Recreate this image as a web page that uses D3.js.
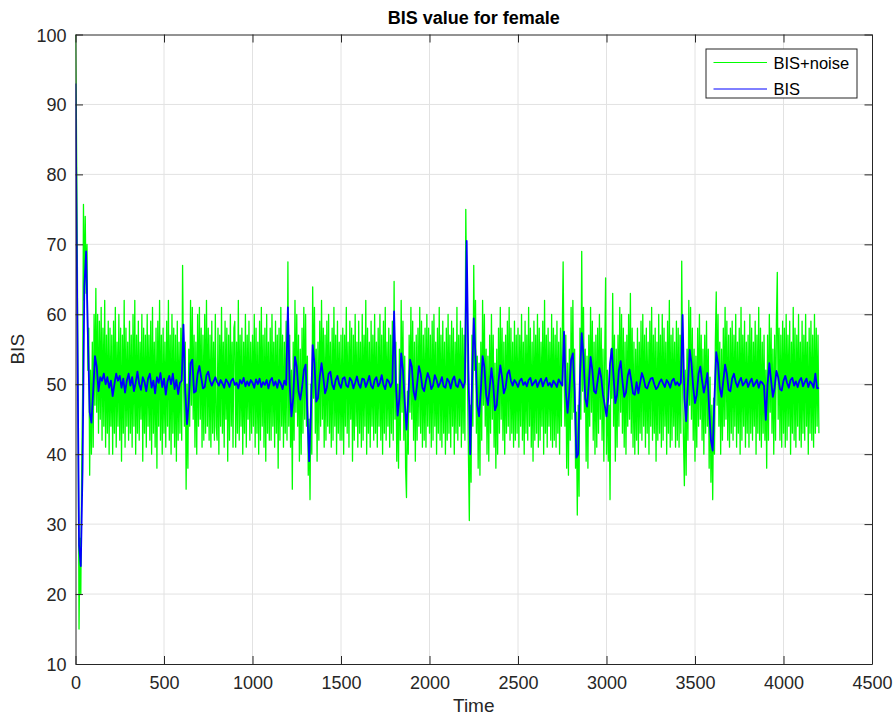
<!DOCTYPE html>
<html>
<head>
<meta charset="utf-8">
<script src="https://cdn.jsdelivr.net/npm/d3@7"></script>
<style>
    body { margin: 0; background: #fff; }
    svg { display: block; font-family: "Liberation Sans", Arial, Helvetica, sans-serif; }
</style>
</head>
<body>
<div id="chart"></div>
<script>
// BIS sampled every 10 time units, BIS+noise every 5, both from t = 0 to t = 4200
const bisStep = 10;
const noiseStep = 5;

const bis = [
    93, 60, 27, 24, 38, 64, 69, 57, 46, 44.5,
    49, 54, 52.5, 49, 51, 50.5, 51.5, 50, 51, 49.5,
    50.5, 48.3, 50, 51.5, 50.5, 51.2, 49.5, 50.8, 48.8, 50.5,
    51.5, 49.8, 51, 49, 50.2, 51.8, 50, 49.2, 51, 50.3,
    49, 50.8, 51.5, 49.5, 50.5, 48.7, 51, 50.2, 51.6, 49.6,
    50.8, 48.5, 50.4, 51.2, 50, 51.5, 49.3, 50.6, 48.6, 50.2,
    50.5, 58.5, 49, 44.3, 47.5, 53, 53.5, 48.8, 49, 51.5,
    52.6, 51, 49.4, 49.6, 51.3, 51.8, 50.5, 49.8, 50.4, 51,
    50.3, 49.8, 50.6, 50.1, 49.5, 50.7, 50.3, 49.6, 50.5, 50.8,
    49.9, 50.2, 49.4, 50.6, 50.1, 50.9, 49.7, 50.4, 49.8, 50.6,
    50.2, 49.5, 50.7, 50, 50.8, 49.6, 50.3, 49.9, 50.6, 49.4,
    50.5, 50.9, 49.8, 50.4, 49.5, 50.6, 50.1, 49.3, 50.5, 49.9,
    61, 50, 45.4, 48, 53.9, 52.5, 49, 47.8, 49.5, 52,
    52.8, 46, 39, 46, 55.6, 53, 47.5, 48, 51, 53,
    51, 48.7, 49.5, 51.5, 51.8, 50, 49.3, 50.6, 51.2, 50,
    49.5, 50.8, 51, 49.8, 49.6, 50.9, 50.5, 49.4, 50.2, 51.1,
    50, 49.5, 50.8, 50.7, 49.6, 50.3, 51.2, 49.8, 49.4, 50.6,
    51, 49.7, 50.2, 51.3, 49.9, 49.3, 50.7, 50.4, 49.6, 50.3,
    60.4, 50, 45.5, 48, 54.4, 52, 47.5, 43.5, 48, 53.5,
    52.5, 49, 47.8, 50, 52.6, 51.5, 49.5, 49, 50.5, 51.6,
    50.8, 49.3, 49.8, 51.3, 50.6, 49.6, 50.2, 51, 49.7, 49.5,
    50.8, 50.4, 49.4, 50.6, 51.1, 49.8, 49.6, 50.7, 50.2, 49.5,
    50.3, 70.5, 52, 40, 50, 59.4, 54, 47, 45.4, 49,
    54, 52.5, 48.5, 47, 49.5, 52.3, 50, 46.3, 47, 50.5,
    52.7, 51, 48.7, 49.5, 51.5, 52, 50.5, 49.8, 50.6, 50.2,
    49.6, 50.5, 50.8, 49.9, 50.3, 49.7, 50.6, 50.9, 49.8, 50.2,
    50.6, 49.6, 50.3, 50.8, 49.7, 50.4, 50.9, 49.8, 50.2, 49.6,
    50.5, 50.1, 49.6, 50.7, 50.2, 49.8, 57.5, 49, 45.9, 49,
    53.5, 54.4, 49, 39.5, 40, 51, 57.3, 54, 48, 46.8,
    50, 53.9, 52, 49, 48.7, 50.5, 52.3, 51, 48.5, 47,
    45.4, 48, 53, 55.1, 51, 47.3, 48.5, 52, 53.3, 50.5,
    48.2, 48.8, 51.2, 52.1, 50.5, 48.7, 48.5, 50.3, 48.7, 50.2,
    51.6, 50.8, 49.6, 49.4, 50.2, 50.8, 50.9, 50, 49.3, 49.6,
    50.3, 50.7, 50.1, 49.6, 50.6, 50.2, 49.5, 50.5, 50.8, 49.9,
    50.3, 49.8, 50.2, 59.9, 48, 44.7, 50, 54.9, 53, 49.5,
    47.3, 48.5, 51.5, 52.5, 50.5, 48.8, 50, 51.6, 46.5, 42,
    40.5, 48, 54.6, 53, 49.5, 48.2, 50.5, 52.8, 51.5, 49.2,
    49, 50.8, 51.5, 50.3, 49.6, 50.4, 50.9, 49.8, 50.2, 50.7,
    49.6, 50.3, 50.8, 49.7, 50.1, 50.6, 49.5, 50.4, 50.2, 49.8,
    44.9, 50, 53, 50.5, 48.2, 49.5, 51.9, 51, 49.3, 49.1,
    50.5, 51.2, 50.2, 49.5, 50.6, 50.9, 49.8, 50.4, 49.6, 50.5,
    50.9, 49.7, 50.3, 50.8, 49.6, 50.4, 50.1, 49.5, 51.5, 49.4,
    49.5
];

const bisNoise = [
    100, 88, 70, 45, 15, 28, 20, 38, 48, 75.7, 62, 74, 63, 70, 52, 58, 37, 52, 40, 56,
    41, 60, 47, 63.7, 46, 60, 43, 59, 45, 61, 42, 58, 44, 62, 41, 57, 43, 59, 40, 58,
    44, 57, 40, 59, 43, 61, 41, 56, 44, 60, 42, 58, 39, 57, 43, 62, 41, 58, 44, 56,
    42, 59, 43, 57, 41, 60, 44, 62, 40, 57, 43, 59, 42, 56, 45, 60, 39, 58, 43, 57,
    41, 60, 44, 57, 42, 59, 40, 61, 43, 56, 41, 58, 38, 59, 44, 62, 42, 57, 40, 58,
    43, 56, 41, 59, 44, 62, 42, 57, 40, 60, 43, 58, 41, 57, 39, 59, 42, 56, 43, 58,
    42, 67, 52, 44, 56, 35, 50, 38, 55, 44, 62, 47, 61, 45, 57, 41, 56, 40, 60, 44,
    61, 45, 58, 41, 57, 42, 60, 43, 62, 44, 58, 42, 57, 41, 59, 43, 56, 42, 60, 44,
    42, 58, 40, 57, 44, 61, 43, 56, 41, 59, 45, 58, 39, 57, 42, 60, 44, 56, 41, 58,
    59, 41, 56, 43, 62, 42, 57, 44, 58, 40, 56, 43, 60, 41, 57, 45, 59, 42, 56, 43,
    57, 44, 60, 41, 58, 43, 56, 40, 59, 42, 61, 44, 57, 41, 58, 39, 60, 43, 56, 42,
    58, 42, 60, 44, 56, 41, 59, 43, 57, 38, 58, 42, 61, 44, 57, 41, 56, 43, 59, 42,
    67.5, 44, 57, 41, 52, 35, 56, 42, 62, 46, 60, 44, 57, 39, 55, 40, 58, 43, 61, 45,
    60, 44, 54, 37, 45, 33.5, 50, 40, 63.9, 48, 61, 43, 55, 39, 56, 42, 59, 44, 62, 45,
    58, 41, 57, 42, 59, 44, 60, 43, 56, 41, 58, 42, 61, 44, 57, 40, 59, 43, 56, 42,
    57, 42, 58, 40, 57, 44, 61, 43, 56, 41, 59, 45, 58, 39, 57, 42, 60, 44, 56, 41,
    59, 43, 56, 41, 60, 42, 57, 44, 62, 40, 58, 43, 56, 41, 59, 44, 57, 42, 60, 43,
    56, 41, 58, 44, 60, 42, 57, 40, 59, 43, 61, 42, 56, 44, 58, 41, 57, 43, 59, 42,
    64.7, 45, 56, 39, 50, 38, 55, 42, 62, 46, 59, 42, 54, 38, 33.8, 49, 40, 57, 46, 61,
    45, 59, 42, 56, 39, 57, 42, 58, 44, 61, 43, 59, 41, 57, 42, 58, 41, 60, 44, 58,
    43, 57, 41, 59, 42, 60, 44, 56, 40, 58, 43, 61, 42, 57, 41, 59, 43, 56, 40, 58,
    42, 60, 43, 57, 41, 59, 44, 58, 40, 56, 43, 61, 42, 57, 44, 59, 41, 58, 43, 57,
    42, 75, 62, 50, 40, 30.5, 47, 36, 57, 44, 67, 52, 62, 43, 54, 38, 53, 37, 56, 42,
    62, 47, 60, 44, 55, 40, 54, 39, 57, 43, 60, 45, 57, 41, 53, 38, 55, 40, 58, 43,
    61, 45, 58, 42, 56, 40, 57, 43, 59, 44, 61, 42, 58, 43, 56, 41, 59, 42, 57, 43,
    58, 41, 57, 44, 60, 42, 56, 40, 59, 43, 57, 42, 61, 44, 58, 41, 56, 39, 59, 42,
    57, 43, 60, 41, 58, 42, 56, 44, 59, 40, 62, 43, 57, 41, 58, 44, 56, 42, 60, 41,
    58, 42, 57, 41, 59, 43, 56, 40, 58, 44, 57, 67.5, 52, 44, 57, 38, 53, 37, 55, 42,
    61, 45, 62, 46, 55, 38, 46, 31.3, 47, 34, 58, 45, 69, 49, 61, 46, 55, 39, 54, 38,
    57, 44, 61, 46, 59, 42, 56, 40, 57, 41, 58, 43, 60, 45, 58, 42, 55, 39, 54, 65.2,
    40, 52, 39, 47, 33.5, 55, 48, 63, 44, 57, 39, 55, 41, 57, 44, 61, 46, 60, 43, 58,
    41, 56, 40, 57, 44, 60, 45, 63, 43, 58, 41, 56, 40, 55, 42, 58, 40, 56, 43, 59,
    42, 60, 44, 57, 41, 58, 43, 56, 40, 59, 44, 61, 42, 57, 43, 58, 39, 56, 42, 60,
    43, 57, 41, 60, 42, 58, 44, 56, 40, 59, 43, 62, 41, 57, 42, 58, 44, 56, 41, 59,
    42, 58, 41, 57, 43, 67.6, 50, 42, 35.5, 52, 37, 55, 42, 62, 47, 61, 45, 58, 42, 55,
    39, 54, 41, 58, 44, 60, 45, 57, 42, 55, 40, 57, 43, 59, 44, 55, 38, 51, 36, 47,
    33.5, 48, 40, 56, 63.2, 47, 60, 44, 56, 40, 55, 42, 58, 44, 61, 45, 59, 42, 57, 41,
    58, 43, 59, 42, 57, 44, 60, 41, 56, 43, 58, 40, 61, 42, 57, 44, 59, 41, 56, 43,
    57, 41, 60, 43, 58, 42, 56, 44, 59, 40, 57, 43, 61, 42, 58, 41, 56, 43, 57, 42,
    52, 38, 57, 42, 60, 46, 58, 43, 55, 40, 57, 42, 59, 66, 45, 58, 42, 57, 41, 59,
    43, 58, 41, 60, 42, 57, 44, 59, 40, 56, 43, 61, 42, 58, 41, 57, 44, 60, 42, 56,
    41, 59, 43, 57, 42, 60, 44, 56, 40, 58, 43, 59, 42, 57, 41, 60, 43, 58, 44, 57,
    43
];

const xTicks = [0, 500, 1000, 1500, 2000, 2500, 3000, 3500, 4000, 4500];
const yTicks = [10, 20, 30, 40, 50, 60, 70, 80, 90, 100];
const legendLabels = ["BIS+noise", "BIS"];

const width = 895;
const height = 718;
const margin = { top: 34.5, right: 23, bottom: 54, left: 75.5 };
const innerWidth = width - margin.left - margin.right;
const innerHeight = height - margin.top - margin.bottom;
const axisColor = "#262626";

const svg = d3.select("#chart")
    .append("svg")
    .attr("width", width)
    .attr("height", height);

const x = d3.scaleLinear().domain([0, 4500]).range([margin.left, width - margin.right]);
const y = d3.scaleLinear().domain([10, 100]).range([height - margin.bottom, margin.top]);

// grid
svg.append("g")
    .selectAll("line")
    .data(xTicks.slice(1, -1))
    .join("line")
    .attr("x1", d => x(d)).attr("x2", d => x(d))
    .attr("y1", margin.top).attr("y2", height - margin.bottom)
    .attr("stroke", "#e2e2e2").attr("stroke-width", 1);

svg.append("g")
    .selectAll("line")
    .data(yTicks.slice(1, -1))
    .join("line")
    .attr("x1", margin.left).attr("x2", width - margin.right)
    .attr("y1", d => y(d)).attr("y2", d => y(d))
    .attr("stroke", "#e2e2e2").attr("stroke-width", 1);

svg.append("clipPath").attr("id", "plotClip")
    .append("rect")
    .attr("x", margin.left).attr("y", margin.top)
    .attr("width", innerWidth).attr("height", innerHeight);

const lineFor = step => d3.line()
    .x((d, i) => x(i * step))
    .y(d => y(d));

svg.append("path")
    .attr("clip-path", "url(#plotClip)")
    .attr("fill", "none")
    .attr("stroke", "#00ff00")
    .attr("stroke-width", 1.3)
    .attr("stroke-linejoin", "round")
    .attr("d", lineFor(noiseStep)(bisNoise));

svg.append("path")
    .attr("clip-path", "url(#plotClip)")
    .attr("fill", "none")
    .attr("stroke", "#0000ff")
    .attr("stroke-width", 1.8)
    .attr("stroke-linejoin", "round")
    .attr("d", lineFor(bisStep)(bis));

// axes, ticks pointing inward like matlab
const styleAxis = g => {
    g.select(".domain").attr("stroke", axisColor);
    g.selectAll(".tick line").attr("stroke", axisColor);
    g.selectAll(".tick text").attr("fill", axisColor).style("font-size", "18px");
};

svg.append("g")
    .attr("transform", `translate(0,${height - margin.bottom})`)
    .call(d3.axisBottom(x).tickValues(xTicks).tickFormat(d3.format("d")).tickSize(-8).tickSizeOuter(0))
    .call(styleAxis)
    .call(g => g.selectAll(".tick text").attr("dy", null).attr("y", 25));

svg.append("g")
    .attr("transform", `translate(0,${margin.top})`)
    .call(d3.axisTop(x).tickValues(xTicks).tickSize(-8).tickSizeOuter(0))
    .call(styleAxis)
    .call(g => g.selectAll(".tick text").remove());

svg.append("g")
    .attr("transform", `translate(${margin.left},0)`)
    .call(d3.axisLeft(y).tickValues(yTicks).tickSize(-7.5).tickSizeOuter(0))
    .call(styleAxis)
    .call(g => g.selectAll(".tick text").attr("dy", null).attr("x", -9).attr("y", 6.5));

svg.append("g")
    .attr("transform", `translate(${width - margin.right},0)`)
    .call(d3.axisRight(y).tickValues(yTicks).tickSize(-7.5).tickSizeOuter(0))
    .call(styleAxis)
    .call(g => g.selectAll(".tick text").remove());

// title and labels
svg.append("text")
    .attr("x", (margin.left + width - margin.right) / 2)
    .attr("y", 24)
    .attr("text-anchor", "middle")
    .attr("fill", "#000")
    .style("font-size", "18px")
    .style("font-weight", "bold")
    .text("BIS value for female");

svg.append("text")
    .attr("x", (margin.left + width - margin.right) / 2)
    .attr("y", 712)
    .attr("text-anchor", "middle")
    .attr("fill", axisColor)
    .style("font-size", "19px")
    .text("Time");

svg.append("text")
    .attr("transform", `translate(24,${(margin.top + height - margin.bottom) / 2}) rotate(-90)`)
    .attr("text-anchor", "middle")
    .attr("fill", axisColor)
    .style("font-size", "19px")
    .text("BIS");

// legend
const legend = svg.append("g").attr("transform", "translate(706,49)");
legend.append("rect")
    .attr("width", 151).attr("height", 49)
    .attr("fill", "#fff")
    .attr("stroke", axisColor).attr("stroke-width", 1);

const legendColors = ["#00ff00", "#0000ff"];
legendLabels.forEach((lab, i) => {
    const cy = 13.5 + i * 26.5;
    legend.append("line")
        .attr("x1", 7.5).attr("x2", 61)
        .attr("y1", cy).attr("y2", cy)
        .attr("stroke", legendColors[i]).attr("stroke-width", 1);
    legend.append("text")
        .attr("x", 67.5).attr("y", cy + 6)
        .attr("fill", "#000")
        .style("font-size", "16.5px")
        .text(lab);
});
</script>
</body>
</html>
